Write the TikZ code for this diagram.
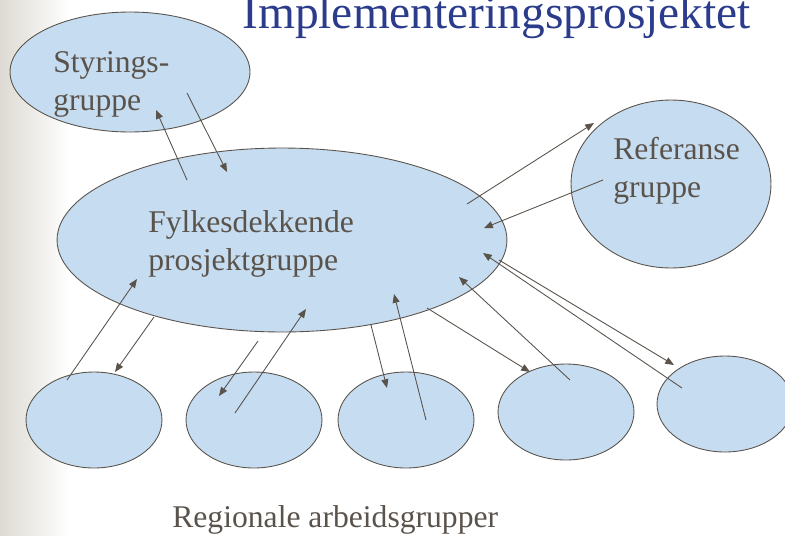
\documentclass[tikz,border=0pt]{standalone}
\usepackage{fontspec}
\setmainfont{Liberation Serif}
\usetikzlibrary{shapes.geometric,arrows.meta,positioning}

\definecolor{grpfill}{HTML}{C6DCF0}
\definecolor{grpline}{HTML}{5A534C}
\definecolor{titleblue}{HTML}{2B3C8C}
\definecolor{bggray}{HTML}{DEDAD3}

\begin{document}
\begin{tikzpicture}[x=0.02cm, y=-0.02cm,
        group/.style = {draw=grpline, fill=grpfill, ellipse, inner sep=0pt, line width=0.5pt},
        smallgroup/.style = {group, minimum width=2.72cm, minimum height=1.92cm},
        grptext/.style = {text=grpline, font=\fontsize{18}{21.6}\selectfont, align=left, anchor=base west, inner sep=0pt},
        arrow/.style = {draw=grpline, line width=0.5pt, -{Triangle[length=5pt,width=4pt]}}
        ]
        \useasboundingbox (0,0) rectangle (785,535);
        \clip (0,0) rectangle (785,535);
        \shade[left color=bggray, right color=white] (0,0) rectangle (70,535);

        \node[text=titleblue, font=\fontsize{27}{32}\selectfont, anchor=base west, inner sep=0pt] (title) at (242,28) {Implementeringsprosjektet};

        \node[group, minimum width=4.8cm, minimum height=2.4cm] (styr) at (130,72) {};
        \node[group, minimum width=9cm, minimum height=3.68cm] (fylke) at (282,240) {};
        \node[group, minimum width=4cm, minimum height=3.36cm] (ref) at (671,184) {};
        \node[smallgroup] (r1) at (94,420) {};
        \node[smallgroup] (r2) at (254,420) {};
        \node[smallgroup] (r3) at (406,420) {};
        \node[smallgroup] (r4) at (566,412) {};
        \node[smallgroup] (r5) at (725,404) {};

        % base = baseline of the last line
        \node[grptext] (styr-txt) at (53,110) {Styrings-\\gruppe};
        \node[grptext] (fylke-txt) at (148,270) {Fylkesdekkende\\prosjektgruppe};
        \node[grptext] (ref-txt) at (613,197) {Referanse\\gruppe};
        \node[grptext] (reg-txt) at (172,527) {Regionale arbeidsgrupper};

        % arrow ends
        \coordinate (a1) at (187,180);  \coordinate (b1) at (156,110);
        \coordinate (a2) at (187,93);   \coordinate (b2) at (227,172);
        \coordinate (a3) at (467,204);  \coordinate (b3) at (594,123);
        \coordinate (a4) at (603,180);  \coordinate (b4) at (484,228);
        \coordinate (a5) at (67,380);   \coordinate (b5) at (137,279);
        \coordinate (a6) at (154,317);  \coordinate (b6) at (115,372);
        \coordinate (a7) at (258,341);  \coordinate (b7) at (219,396);
        \coordinate (a8) at (235,413);  \coordinate (b8) at (306,309);
        \coordinate (a9) at (371,325);  \coordinate (b9) at (387,388);
        \coordinate (a10) at (426,420); \coordinate (b10) at (394,294);
        \coordinate (a11) at (427,308); \coordinate (b11) at (530,372);
        \coordinate (a12) at (570,380); \coordinate (b12) at (459,277);
        \coordinate (a13) at (499,260); \coordinate (b13) at (674,365);
        \coordinate (a14) at (682,388); \coordinate (b14) at (483,253);

        \foreach \i in {1,...,14}
            \draw[arrow] (a\i) -- (b\i);

    \end{tikzpicture}
\end{document}
